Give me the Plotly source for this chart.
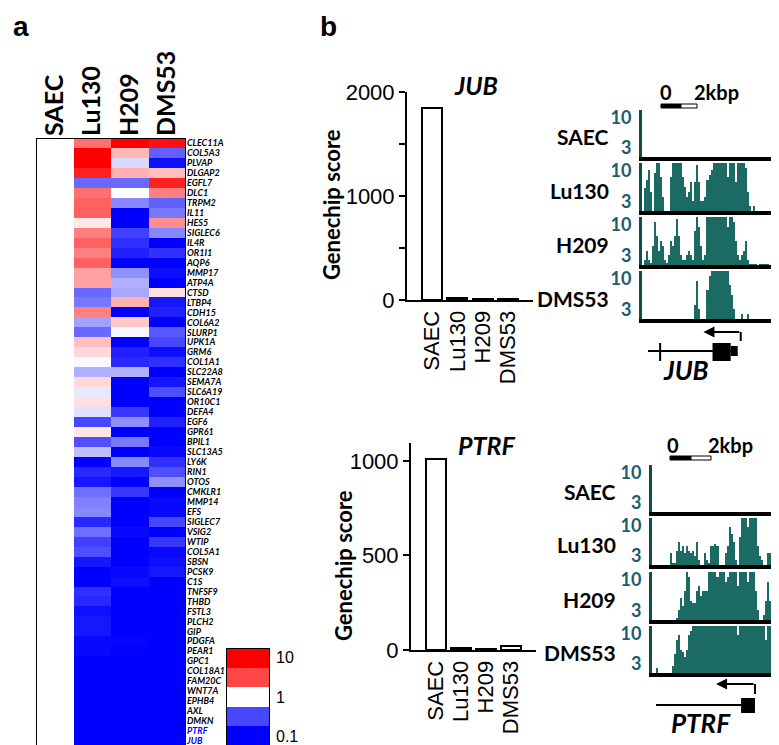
import plotly.graph_objects as go

W, H = 779, 745
def fx(p): return p / W
def fy(p): return 1 - p / H

# ---------------- data ----------------
samples = ["SAEC", "Lu130", "H209", "DMS53"]
genes = ["CLEC11A", "COL5A3", "PLVAP", "DLGAP2", "EGFL7", "DLC1", "TRPM2", "IL11", "HES5", "SIGLEC6",
         "IL4R", "OR1I1", "AQP6", "MMP17", "ATP4A", "CTSD", "LTBP4", "CDH15", "COL6A2", "SLURP1",
         "UPK1A", "GRM6", "COL1A1", "SLC22A8", "SEMA7A", "SLC6A19", "OR10C1", "DEFA4", "EGF6", "GPR61",
         "BPIL1", "SLC13A5", "LY6K", "RIN1", "OTOS", "CMKLR1", "MMP14", "EFS", "SIGLEC7", "VSIG2",
         "WTIP", "COL5A1", "SBSN", "PCSK9", "C1S", "TNFSF9", "THBD", "FSTL3", "PLCH2", "GIP",
         "PDGFA", "PEAR1", "GPC1", "COL18A1", "FAM20C", "WNT7A", "EPHB4", "AXL", "DMKN", "PTRF", "JUB"]
highlight_genes = ["PTRF", "JUB"]

# log10 expression ratio relative to SAEC
saec_log10 = [0, 0, 0, 0, 0, 0, 0, 0, 0, 0,
              0, 0, 0, 0, 0, 0, 0, 0, 0, 0,
              0, 0, 0, 0, 0, 0, 0, 0, 0, 0,
              0, 0, 0, 0, 0, 0, 0, 0, 0, 0,
              0, 0, 0, 0, 0, 0, 0, 0, 0, 0,
              0, 0, 0, 0, 0, 0, 0, 0, 0, 0, 0]
lu130_log10 = [0.56, 1.0, 1.0, 0.87, -0.59, 0.56, 0.62, 0.62, 0.09, 0.5,
               0.62, 0.5, 0.62, 0.37, 0.37, -0.59, -0.53, 0.5, -0.37, -0.59,
               0.25, 0.15, -0.03, -0.31, 0.15, -0.09, 0.12, -0.12, -0.72, 0.1,
               -0.69, -0.25, -1, -0.84, -0.91, -0.56, -0.5, -0.47, -0.84, -0.56,
               -0.75, -0.69, -0.91, -1, -1, -0.81, -0.84, -0.94, -0.91, -0.91,
               -0.97, -0.97, -1, -1, -1, -1, -1, -1, -1, -1, -1]
h209_log10 = [1.0, 0.28, -0.15, 0.31, -0.59, 0.0, -0.47, -1, -1, -0.75,
              -0.81, -0.87, -1, -0.44, -0.31, -0.34, 0.31, -1, 0.22, -0.03,
              -1, -0.87, -0.84, -0.31, -1, -1, -1, -0.78, -0.44, -1,
              -0.53, -1, -0.47, -0.91, -1, -0.78, -1, -1, -1, -0.97,
              -1, -1, -1, -0.97, -0.94, -1, -1, -1, -1, -1,
              -0.98, -1, -1, -1, -1, -1, -1, -1, -1, -1, -1]
dms53_log10 = [0.94, -0.62, -0.94, 0.25, 0.87, 0.5, -0.62, -0.53, 0.44, -0.47,
               -1, -0.81, -1, -0.94, -1, 0.12, -0.91, -0.87, -1, -0.65,
               -0.72, -0.94, -0.81, -1, -0.91, -0.69, -1, -1, -0.87, -1,
               -1, -0.97, -0.81, -0.69, -0.44, -1, -0.97, -0.97, -0.72, -1,
               -0.78, -0.97, -0.94, -0.91, -1, -1, -1, -1, -1, -1,
               -1, -1, -1, -1, -1, -1, -1, -1, -1, -1, -1]

legend_log10 = [-1, -0.72, 0, 0.72, 1]
legend_labels = ["0.1", "", "1", "", "10"]

# Genechip scores
jub_scores = [1850, 15, 5, 12]
ptrf_scores = [1010, 10, 5, 20]
jub_ticks = [0, 500, 1000, 1500, 2000]
jub_ticklabels = ["0", "", "1000", "", "2000"]
ptrf_ticks = [0, 500, 1000]
ptrf_ticklabels = ["0", "500", "1000"]

# ChIP-seq style tracks (binned signal, 0-10 clipped)
jub_saec = [0, 0, 0, 0, 0, 0, 0, 0, 0, 0, 0, 0, 0, 0, 0, 0, 0, 0, 0, 0, 0, 0,
            0, 0, 0, 0, 0, 0, 0, 0, 0, 0, 0, 0, 0, 0, 0, 0, 0, 0, 0, 0, 0, 0,
            0, 0, 0, 0, 0, 0, 0, 0, 0, 0, 0, 0, 0, 0, 0, 0, 0, 0, 0, 0, 0, 0]
jub_lu130 = [0, 4.8, 6.5, 8.6, 4, 0, 8, 10, 10, 7,
             3, 0, 0, 0, 7, 10, 10, 10, 10, 10,
             7, 5, 3, 4, 6, 2, 6, 9.5, 6, 2,
             2, 3, 6.5, 7.5, 8.5, 10, 10, 10, 10, 10,
             10, 10, 7, 10, 10, 10, 6, 10, 10, 10,
             10, 9, 4, 1, 0, 1, 0, 0, 0, 0,
             0, 0, 0, 0, 0, 0]
jub_h209 = [0, 1, 3, 1, 0.5, 4, 9, 6, 3, 5,
            4, 1, 0.5, 2, 5, 4, 6, 9.5, 6, 2,
            1, 1, 2, 3, 2, 1, 7, 10, 8, 4,
            1, 2, 10, 10, 10, 10, 10, 10, 10, 10,
            10, 10, 8, 10, 10, 9, 5, 2, 1, 2,
            3, 5, 1, 0.2, 0.2, 0.2, 0.2, 0, 0.2, 0.2,
            0.2, 0.2, 0.2, 0, 0, 0]
jub_dms53 = [0, 0, 0, 0, 0, 0, 0, 0, 0, 0,
             0, 0, 0, 0, 0, 0, 0, 0, 0, 0,
             0, 0, 0, 0, 0, 0, 3, 8, 2, 0,
             0, 0, 6, 9, 10, 10, 10, 10, 10, 10,
             10, 10, 10, 7, 5, 2, 0, 0, 0, 1,
             0, 0, 1, 0, 0, 0, 0, 0, 0, 0,
             0, 0, 0, 0, 0, 0]
ptrf_saec = [0, 0, 0, 0, 0, 0, 0, 0, 0, 0, 0, 0, 0, 0, 0, 0, 0, 0, 0, 0, 0, 0,
             0, 0, 0, 0, 0, 0, 0, 0, 0, 0, 0, 0, 0, 0, 0, 0, 0, 0, 0, 0, 0,
             0, 0, 0, 0, 0, 0, 0, 0, 0, 0, 0, 0, 0, 0, 0, 0, 0, 0, 0, 0, 0, 0]
ptrf_lu130 = [0, 0, 0, 0, 0, 0, 0, 0, 0, 2.5,
              0.5, 0.5, 3, 5, 3, 4, 2.5, 4, 3, 2.5,
              3, 2, 5, 1, 0, 0, 2.5, 1, 0.5, 4,
              4, 4.5, 4, 0, 0, 0, 2.5, 4, 8, 6.5,
              5, 1, 0, 6, 10, 10, 10, 8, 10, 10,
              10, 10, 4, 2, 1, 0, 0, 2.5, 2.5, 0,
              0, 1, 0, 0, 0]
ptrf_h209 = [0, 0, 0, 0, 0, 0, 0, 0, 0, 0,
             0, 0, 0.5, 2, 4.5, 3, 6, 10, 9, 4,
             3.5, 3.5, 6, 7, 5, 6, 6, 6, 10, 10,
             10, 10, 9, 10, 10, 10, 8, 9, 10, 10,
             10, 10, 7, 10, 10, 10, 10, 8, 10, 10,
             10, 6, 2, 0, 0, 1, 4, 8, 4, 1,
             0, 0, 0, 0, 0]
ptrf_dms53 = [0, 0, 1, 0, 0, 0, 0, 0, 0, 0,
              1.5, 4, 7, 8, 5, 4.5, 3.5, 5, 8, 9,
              10, 10, 10, 10, 10, 10, 10, 10, 10, 10,
              10, 10, 10, 10, 10, 10, 10, 10, 10, 10,
              10, 10, 8, 10, 10, 10, 10, 10, 10, 10,
              10, 10, 10, 10, 10, 10, 7, 10, 10, 10,
              6, 5, 3, 2, 1]
track_tick_labels = ["10", "3"]

# ---------------- styles ----------------
BOLD = "Lato"
ARIAL = "Liberation Sans"
TEAL = "#1b6a64"
TEAL_AX = "#0e4d48"
TICK_TEAL = "#1c5c6d"
CSCALE = [[0, "#0000ff"], [0.5, "#ffffff"], [1, "#ff0000"]]

fig = go.Figure()
layout = dict(template="none", width=W, height=H, margin=dict(l=0, r=0, t=0, b=0, pad=0, autoexpand=False),
              paper_bgcolor="white", plot_bgcolor="white", showlegend=False)

# ---------------- heatmap ----------------
z = [[s, a, b, c] for s, a, b, c in zip(saec_log10, lu130_log10, h209_log10, dms53_log10)]
fig.add_trace(go.Heatmap(z=z, x=list(range(len(samples))), y=list(range(len(genes))),
                         colorscale=CSCALE, zmin=-1, zmax=1, showscale=False,
                         hoverinfo="skip", xaxis="x", yaxis="y"))
gene_text = [f"<span style='color:#0000ff'>{g}</span>" if g in highlight_genes else g for g in genes]
layout["xaxis"] = dict(domain=[fx(28), fx(178)], range=[-0.5, 3.5], anchor="y", side="top",
                       tickmode="array", tickvals=list(range(4)), ticktext=samples, tickangle=-90,
                       tickfont=dict(family=BOLD, size=25, weight="bold", color="black"),
                       showgrid=False, zeroline=False, ticks="", showline=False, automargin=False,
                       ticklabelstandoff=1)
layout["yaxis"] = dict(domain=[fy(738), fy(130)], range=[len(genes) - 0.5, -0.5], anchor="x", side="right",
                       tickmode="array", tickvals=list(range(len(genes))), ticktext=gene_text,
                       tickfont=dict(family=BOLD, size=9, weight="bold", style="italic", color="black"),
                       showgrid=False, zeroline=False, ticks="", showline=False, ticklabelstandoff=0,
                       automargin=False)

# discrete colour key
fig.add_trace(go.Heatmap(z=[[v] for v in legend_log10], x=[0], y=list(range(len(legend_log10))),
                         colorscale=CSCALE, zmin=-1, zmax=1, showscale=False, hoverinfo="skip",
                         xaxis="x2", yaxis="y2"))
layout["xaxis2"] = dict(domain=[fx(218), fx(262)], range=[-0.5, 0.5], anchor="y2", showticklabels=False,
                        showgrid=False, zeroline=False, ticks="", automargin=False)
layout["yaxis2"] = dict(domain=[fy(738), fy(640)], range=[-0.5, 4.5], anchor="x2", side="right",
                        tickmode="array", tickvals=list(range(5)), ticktext=legend_labels,
                        tickfont=dict(family=ARIAL, size=16, color="black"),
                        showgrid=False, zeroline=False, ticks="", ticklabelstandoff=5, automargin=False)

# ---------------- bar charts ----------------
def bar_panel(k, xd, yd, vals, ymax, tv, tt):
    fig.add_trace(go.Bar(x=list(range(len(samples))), y=vals, width=0.8,
                         marker=dict(color="white", line=dict(color="black", width=2)),
                         hoverinfo="skip", xaxis=f"x{k}", yaxis=f"y{k}"))
    layout[f"xaxis{k}"] = dict(domain=[fx(xd[0]), fx(xd[1])], range=[-1, 4], anchor=f"y{k}",
                               tickmode="array", tickvals=list(range(4)), ticktext=samples, tickangle=-90,
                               tickfont=dict(family=ARIAL, size=22, color="black"),
                               showline=True, linecolor="black", linewidth=2, ticks="",
                               showgrid=False, zeroline=False, automargin=False)
    layout[f"yaxis{k}"] = dict(domain=[fy(yd[0]), fy(yd[1])], range=[0, ymax], anchor=f"x{k}",
                               tickmode="array", tickvals=tv, ticktext=tt,
                               tickfont=dict(family=ARIAL, size=22, color="black"),
                               showline=True, linecolor="black", linewidth=2,
                               ticks="outside", ticklen=6, tickwidth=2, tickcolor="black",
                               showgrid=False, zeroline=False, automargin=False)

bar_panel(3, (399, 525), (292, 84), jub_scores, 2000, jub_ticks, jub_ticklabels)
bar_panel(4, (403, 528), (642, 435), ptrf_scores, 1095, ptrf_ticks, ptrf_ticklabels)

# ---------------- tracks ----------------
jub_tracks = [jub_saec, jub_lu130, jub_h209, jub_dms53]
ptrf_tracks = [ptrf_saec, ptrf_lu130, ptrf_h209, ptrf_dms53]
jub_rows = [(102, 149), (155, 203), (209, 257), (263, 311)]
ptrf_rows = [(457, 504), (510, 557), (564, 612), (618, 665)]

def add_tracks(start_k, tracks, rows, xd):
    for i, (vals, (t, b)) in enumerate(zip(tracks, rows)):
        k = start_k + i
        n = len(vals)
        fig.add_trace(go.Bar(x=list(range(n)), y=vals, width=1.0,
                             marker=dict(color=TEAL, line=dict(width=0)),
                             hoverinfo="skip", xaxis=f"x{k}", yaxis=f"y{k}"))
        layout[f"xaxis{k}"] = dict(domain=[fx(xd[0]), fx(xd[1])], range=[-0.5, n - 0.5], anchor=f"y{k}",
                                   showline=True, linecolor="black", linewidth=4, showticklabels=False,
                                   ticks="", showgrid=False, zeroline=False, automargin=False)
        layout[f"yaxis{k}"] = dict(domain=[fy(b), fy(t)], range=[0, 10], anchor=f"x{k}",
                                   showline=True, linecolor=TEAL_AX, linewidth=3,
                                   tickmode="array", tickvals=[8.3, 1.9], ticktext=track_tick_labels,
                                   tickfont=dict(family=BOLD, size=18, weight="bold", color=TICK_TEAL),
                                   ticks="", showgrid=False, zeroline=False, ticklabelstandoff=4,
                                   automargin=False)

add_tracks(5, jub_tracks, jub_rows, (634, 767))
add_tracks(9, ptrf_tracks, ptrf_rows, (644, 775))

layout["bargap"] = 0

# ---------------- shapes & annotations ----------------
shapes = []
annotations = []

def ann(text, x, y, size, family=BOLD, bold=True, italic=False, xanchor="center", angle=0, color="black"):
    annotations.append(dict(text=text, x=fx(x), y=fy(y), xref="paper", yref="paper", showarrow=False,
                            xanchor=xanchor, yanchor="middle", textangle=angle,
                            font=dict(family=family, size=size, color=color,
                                      weight="bold" if bold else "normal",
                                      style="italic" if italic else "normal")))

# heatmap + key borders
shapes.append(dict(type="rect", xref="x", yref="y", x0=-0.5, x1=3.5, y0=-0.5, y1=len(genes) - 0.5,
                   line=dict(color="black", width=2)))
shapes.append(dict(type="rect", xref="x2", yref="y2", x0=-0.5, x1=0.5, y0=-0.5, y1=4.5,
                   line=dict(color="black", width=2)))

# panel letters
ann("a", 13, 19, 28, family=ARIAL)
ann("b", 320, 18, 28, family=ARIAL)

# bar titles
ann("Genechip score", 323, 197, 22, angle=-90)
ann("Genechip score", 335, 558, 22, angle=-90)
ann("JUB", 468, 77, 25, italic=True)
ann("PTRF", 478, 437, 25, italic=True)

# track names
for name, (t, b) in zip(samples, jub_rows):
    ann(name, 603, (t + b) / 2 + 3, 21, xanchor="right")
for name, (t, b) in zip(samples, ptrf_rows):
    ann(name, 610, (t + b) / 2 + 3, 21, xanchor="right")

# scale bars
def scale_bar(x0, xm, x1, ytxt, ybar, x_zero, x_kb):
    shapes.append(dict(type="rect", xref="paper", yref="paper", x0=fx(x0), x1=fx(xm),
                       y0=fy(ybar + 4), y1=fy(ybar), fillcolor="black", line=dict(color="black", width=1)))
    shapes.append(dict(type="rect", xref="paper", yref="paper", x0=fx(xm), x1=fx(x1),
                       y0=fy(ybar + 4), y1=fy(ybar), fillcolor="white", line=dict(color="black", width=1)))
    ann("0", x_zero, ytxt, 20)
    ann("2kbp", x_kb, ytxt, 20)

scale_bar(653, 673, 689, 84, 96, 658, 708)
scale_bar(662, 683, 703, 437, 448, 665, 722)

# gene models (x in track bins, y in page px)
def line(xref, x0, x1, y0, y1, w=2):
    shapes.append(dict(type="line", xref=xref, yref="paper", x0=x0, x1=x1, y0=fy(y0), y1=fy(y1),
                       line=dict(color="black", width=w)))

def box(xref, x0, x1, y0, y1):
    shapes.append(dict(type="rect", xref=xref, yref="paper", x0=x0, x1=x1, y0=fy(y1), y1=fy(y0),
                       fillcolor="black", line=dict(color="black", width=0)))

def tss_arrow(xref, x_tss, x_head, y_arrow, y_drop):
    line(xref, x_tss, x_tss, y_arrow, y_drop)
    annotations.append(dict(x=x_head, y=fy(y_arrow), xref=xref, yref="paper",
                            ax=x_tss, ay=0, axref=xref, ayref="pixel", text="", showarrow=True,
                            arrowhead=2, arrowsize=1.1, arrowwidth=2, arrowcolor="black"))

# JUB gene
line("x8", 2.5, 46, 343, 343)
line("x8", 8.5, 8.5, 335, 353)
box("x8", 34.5, 43.5, 335, 353)
box("x8", 43.5, 47, 338, 348)
tss_arrow("x8", 48.5, 30, 324, 333)
ann("JUB", 678, 362, 26, italic=True)

# PTRF gene
line("x12", 1.5, 44, 697, 697)
box("x12", 43.7, 50.6, 690, 705)
tss_arrow("x12", 50.6, 31.3, 676, 686)
ann("PTRF", 693, 715, 26, italic=True)

layout["shapes"] = shapes
layout["annotations"] = annotations
fig.update_layout(**layout)
fig.write_html("out.html")
